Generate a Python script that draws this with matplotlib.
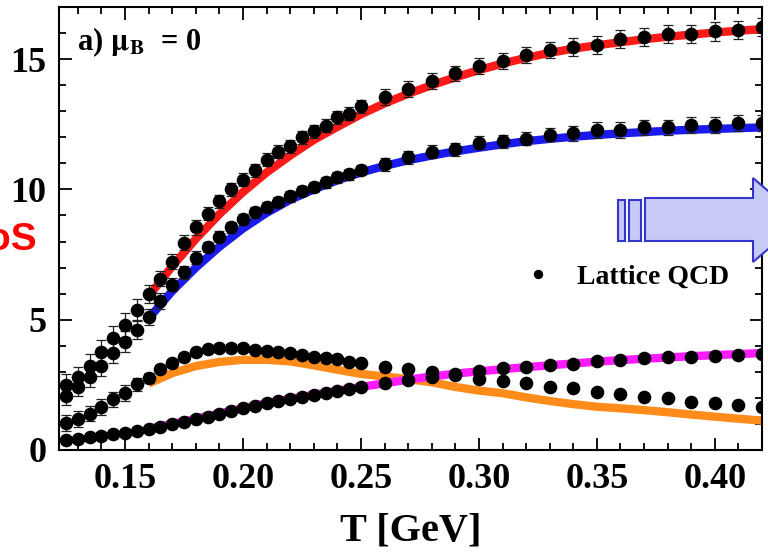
import matplotlib
matplotlib.use("Agg")
import matplotlib.pyplot as plt
from matplotlib.patches import Polygon, Rectangle
from matplotlib.ticker import MultipleLocator

plt.rcParams['font.family'] = ['Liberation Serif', 'DejaVu Serif']
plt.rcParams['font.weight'] = 'bold'
plt.rcParams['mathtext.fontset'] = 'stix'

# lattice QCD points
T_lat = [0.125, 0.130, 0.135, 0.140, 0.145, 0.150, 0.155, 0.160, 0.165, 0.170,
         0.175, 0.180, 0.185, 0.190, 0.195, 0.200, 0.205, 0.210, 0.215, 0.220,
         0.225, 0.230, 0.235, 0.240, 0.245, 0.250,
         0.26, 0.27, 0.28, 0.29, 0.30, 0.31, 0.32, 0.33, 0.34, 0.35,
         0.36, 0.37, 0.38, 0.39, 0.40, 0.41, 0.42]
lat_e = [2.5, 2.8, 3.23, 3.77, 4.3, 4.8, 5.38, 6.0, 6.58, 7.23,
         7.96, 8.54, 9.07, 9.54, 10.0, 10.38, 10.73, 11.13, 11.44, 11.65,
         12.0, 12.23, 12.44, 12.77, 12.9, 13.19,
         13.54, 13.85, 14.15, 14.45, 14.73, 14.92, 15.17, 15.35, 15.46, 15.54,
         15.77, 15.85, 15.96, 15.96, 16.06, 16.13, 16.23]
lat_s = [2.08, 2.42, 2.8, 3.23, 3.73, 4.15, 4.6, 5.1, 5.72, 6.35,
         6.83, 7.38, 7.8, 8.19, 8.54, 8.85, 9.12, 9.33, 9.52, 9.73,
         9.94, 10.1, 10.27, 10.46, 10.58, 10.75,
         10.97, 11.23, 11.45, 11.55, 11.8, 11.85, 11.95, 12.1, 12.15, 12.27,
         12.27, 12.38, 12.38, 12.46, 12.46, 12.56, 12.56]
lat_i = [1.04, 1.2, 1.4, 1.65, 1.94, 2.19, 2.52, 2.77, 3.1, 3.33,
         3.58, 3.77, 3.86, 3.92, 3.92, 3.9, 3.85, 3.81, 3.75, 3.72,
         3.63, 3.58, 3.54, 3.48, 3.38, 3.33,
         3.2, 3.1, 3.0, 2.88, 2.74, 2.65, 2.58, 2.42, 2.38, 2.23,
         2.15, 2.04, 2.0, 1.85, 1.81, 1.73, 1.65]
lat_p = [0.38, 0.42, 0.48, 0.55, 0.6, 0.67, 0.73, 0.8, 0.9, 1.0,
         1.08, 1.2, 1.28, 1.4, 1.5, 1.6, 1.69, 1.8, 1.88, 1.96,
         2.04, 2.12, 2.19, 2.27, 2.36, 2.42,
         2.58, 2.69, 2.8, 2.9, 3.05, 3.15, 3.2, 3.27, 3.31, 3.4,
         3.46, 3.52, 3.55, 3.58, 3.62, 3.66, 3.69]
err_e = [0.4, 0.4, 0.45, 0.45, 0.45, 0.45, 0.4, 0.35, 0.3, 0.3,
         0.3, 0.3, 0.25, 0.25, 0.25, 0.25, 0.25, 0.25, 0.25, 0.25,
         0.25, 0.25, 0.25, 0.25, 0.25, 0.25,
         0.3, 0.3, 0.3, 0.3, 0.3, 0.3, 0.3, 0.3, 0.35, 0.35,
         0.35, 0.35, 0.35, 0.35, 0.35, 0.35, 0.35]
err_s = [0.35, 0.35, 0.4, 0.4, 0.4, 0.4, 0.35, 0.3, 0.3, 0.25,
         0.25, 0.25, 0.2, 0.2, 0.2, 0.2, 0.2, 0.2, 0.2, 0.2,
         0.2, 0.2, 0.2, 0.2, 0.2, 0.2,
         0.25, 0.25, 0.25, 0.25, 0.25, 0.25, 0.25, 0.25, 0.3, 0.3,
         0.3, 0.3, 0.3, 0.3, 0.3, 0.3, 0.3]
err_i = [0.3, 0.3, 0.3, 0.3, 0.3, 0.3, 0.25, 0.2, 0.15, 0.15,
         0.15, 0.15, 0.15, 0.15, 0.15, 0.15, 0.12, 0.12, 0.1, 0.1,
         0.1, 0.1, 0.1, 0.1, 0.1, 0.1,
         0.1, 0.1, 0.1, 0.1, 0.1, 0.1, 0.1, 0.1, 0.1, 0.1,
         0.1, 0.1, 0.1, 0.1, 0.1, 0.1, 0.1]
err_p = [0.12, 0.12, 0.12, 0.12, 0.12, 0.12, 0.12, 0.1, 0.08, 0.08,
         0.08, 0.08, 0.08, 0.08, 0.08, 0.08, 0.08, 0.08, 0.08, 0.08,
         0.08, 0.08, 0.08, 0.08, 0.08, 0.08,
         0.08, 0.08, 0.08, 0.08, 0.08, 0.08, 0.08, 0.08, 0.08, 0.08,
         0.08, 0.08, 0.08, 0.08, 0.08, 0.08, 0.08]

# model curves
T_eos = [0.16, 0.17, 0.18, 0.19, 0.20, 0.21, 0.22, 0.23, 0.24, 0.25,
         0.26, 0.27, 0.28, 0.29, 0.30, 0.31, 0.32, 0.33, 0.34, 0.35,
         0.36, 0.37, 0.38, 0.39, 0.40, 0.41, 0.42]
eos_e = [5.9, 7.05, 8.1, 9.05, 9.9, 10.65, 11.3, 11.9, 12.4, 12.88,
         13.3, 13.67, 14.0, 14.3, 14.58, 14.83, 15.05, 15.24, 15.4, 15.53,
         15.65, 15.76, 15.86, 15.94, 16.02, 16.09, 16.15]
eos_s = [5.05, 6.1, 7.0, 7.8, 8.5, 9.1, 9.6, 10.0, 10.35, 10.65,
         10.9, 11.12, 11.3, 11.46, 11.6, 11.73, 11.85, 11.94, 12.02, 12.09,
         12.15, 12.2, 12.25, 12.29, 12.32, 12.35, 12.38]
eos_i = [2.55, 2.95, 3.22, 3.38, 3.46, 3.46, 3.4, 3.25, 3.08, 2.92,
         2.82, 2.72, 2.6, 2.42, 2.28, 2.18, 2.02, 1.88, 1.76, 1.66,
         1.6, 1.53, 1.45, 1.36, 1.28, 1.2, 1.13]
eos_p = [0.82, 1.0, 1.2, 1.4, 1.6, 1.8, 1.96, 2.12, 2.27, 2.42,
         2.56, 2.7, 2.82, 2.93, 3.02, 3.1, 3.18, 3.25, 3.32, 3.39,
         3.45, 3.5, 3.55, 3.6, 3.64, 3.68, 3.72]

fig = plt.figure(figsize=(7.68, 5.55), dpi=100)
ax = fig.add_axes([59/768, 1-450/555, 703/768, 443/555])

lw = 6
ax.plot(T_eos, eos_e, color='#ff1a1a', lw=lw, solid_capstyle='butt', zorder=2)
ax.plot(T_eos, eos_s, color='#1a1aee', lw=lw, solid_capstyle='butt', zorder=2)
ax.plot(T_eos, eos_i, color='#ff8c1a', lw=lw, solid_capstyle='butt', zorder=2)
ax.plot(T_eos, eos_p, color='#ff1aff', lw=lw, solid_capstyle='butt', zorder=2)

for y, e in [(lat_e, err_e), (lat_s, err_s), (lat_i, err_i), (lat_p, err_p)]:
    ax.errorbar(T_lat, y, yerr=e, fmt='none', ecolor='#222222', elinewidth=0.9,
                capsize=3.5, capthick=0.9, zorder=3)
    h, = ax.plot(T_lat, y, 'o', color='black', ms=8.8, ls='none', zorder=4)

ax.legend([h], ['Lattice QCD'], loc='center left', bbox_to_anchor=(0.63, 0.39),
          frameon=False, markerscale=0.65, handlelength=0.8, handletextpad=1.0,
          prop={'family': 'Liberation Serif', 'weight': 'bold', 'size': 20})

ax.set_xlim(0.122, 0.42)
ax.set_ylim(0, 17)
ax.xaxis.set_major_locator(MultipleLocator(0.05))
ax.xaxis.set_minor_locator(MultipleLocator(0.01))
ax.yaxis.set_major_locator(MultipleLocator(5))
ax.yaxis.set_minor_locator(MultipleLocator(1))
ax.xaxis.set_major_formatter(matplotlib.ticker.FormatStrFormatter('%.2f'))
ax.tick_params(which='both', direction='in', top=True, right=True, width=1.3)
ax.tick_params(which='major', length=9, labelsize=26, pad=9)
ax.tick_params(which='minor', length=5)
for sp in ax.spines.values():
    sp.set_linewidth(1.5)

ax.set_xlabel('T [GeV]', fontsize=29, fontweight='bold', labelpad=12)
ax.text(0.025, 0.92, r'a) $\mathbf{\mu}_\mathbf{B}$  = 0', transform=ax.transAxes,
        fontsize=22, fontweight='bold', va='center', ha='left')

# red label, partly off the left edge as in the original
fig.text(37/768, 1-250/555, 'EoS', color='#ff0000', ha='right', va='baseline',
         fontsize=28, fontweight='bold', family='Liberation Sans')

# arrow graphic on the right
fc, ec = '#c8caf6', '#3434d0'
arrow_pts = [(645, 198), (753, 198), (753, 178), (802, 220), (753, 262),
             (753, 241), (645, 241)]
fig.patches.append(Polygon([(x/768, 1-y/555) for x, y in arrow_pts], closed=True,
                           transform=fig.transFigure, fc=fc, ec=ec, lw=1.5,
                           zorder=5))
for x0, w in [(618, 7), (629, 12)]:
    fig.patches.append(Rectangle((x0/768, 1-241/555), w/768, 41/555,
                                 transform=fig.transFigure, fc=fc, ec=ec,
                                 lw=1.5, zorder=5))

fig.savefig('out.png', dpi=100)
